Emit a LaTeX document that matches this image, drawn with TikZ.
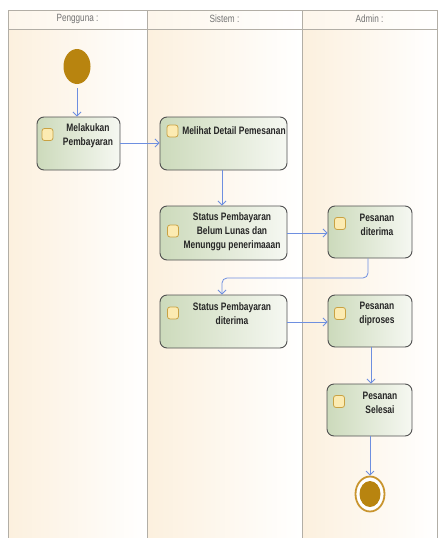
\documentclass[tikz,border=0pt]{standalone}
\usepackage{fontspec}
\setmainfont{Liberation Sans}
\newfontfamily\nodefont[FakeStretch=0.78]{Liberation Sans}
\usetikzlibrary{arrows.meta,calc,shapes.geometric}
\definecolor{lanel}{HTML}{FCF0DE}
\definecolor{laner}{HTML}{FFFFFF}
\definecolor{framec}{HTML}{B2AEA6}
\definecolor{actl}{HTML}{CCDABB}
\definecolor{actr}{HTML}{F6F8F2}
\definecolor{actb}{HTML}{505050}
\definecolor{iconf}{HTML}{FCEBB2}
\definecolor{icond}{HTML}{C9A243}
\definecolor{flow}{HTML}{6E8FE0}
\definecolor{gold}{HTML}{B8840F}
\definecolor{goldr}{HTML}{C9952F}
\tikzset{
  x=1pt, y=-1pt,
  act/.style={draw=actb, line width=0.9pt, rounded corners=7pt, left color=actl, right color=actr, inner sep=0pt},
  icon/.style={draw=icond, line width=0.8pt, fill=iconf, rounded corners=2.5pt, minimum width=11pt, minimum height=12pt, inner sep=0pt},
  lbl/.style={font=\nodefont\bfseries\fontsize{10.8}{14}\selectfont, align=center, text=black!85, inner sep=0pt},
  hdr/.style={font=\nodefont\fontsize{10.5}{12}\selectfont, text=black!55, inner sep=0pt},
  flowline/.style={draw=flow, line width=0.8pt, -{Straight Barb[length=4pt,width=8pt]}},
}
\begin{document}
\begin{tikzpicture}
\useasboundingbox (0,0) rectangle (438,538);
\fill[white] (0,0) rectangle (438,538);
% lanes
\shade[left color=lanel, right color=laner] (8,10) rectangle (147,538);
\shade[left color=lanel, right color=laner] (147,10) rectangle (302,538);
\shade[left color=lanel, right color=laner] (302,10) rectangle (437,538);
\shade[left color=lanel!60, right color=white] (8,10) rectangle (147,29);
\shade[left color=lanel!60, right color=white] (147,10) rectangle (302,29);
\shade[left color=lanel!60, right color=white] (302,10) rectangle (437,29);
\draw[framec, line width=0.9pt] (8,538) -- (8,10) -- (437,10) -- (437,538);
\draw[framec, line width=0.9pt] (8,29) -- (437,29);
\draw[framec, line width=0.9pt] (147,10) -- (147,538);
\draw[framec, line width=0.9pt] (302,10) -- (302,538);
\node[hdr] (h1) at (77.5,19) {Pengguna :};
\node[hdr] (h2) at (224.5,19) {Sistem :};
\node[hdr] (h3) at (369.5,19) {Admin :};
% start
\node[ellipse, fill=gold, minimum width=27pt, minimum height=35pt, inner sep=0pt] (start) at (77,66.5) {};
\coordinate (s0) at (77,88);
% activities
\node[act, minimum width=83pt, minimum height=53pt] (a1) at (78.5,143.5) {};
\node[act, minimum width=127pt, minimum height=53pt] (a2) at (223.5,143.5) {};
\node[act, minimum width=127pt, minimum height=54pt] (a3) at (223.5,233) {};
\node[act, minimum width=84pt, minimum height=52pt] (a4) at (370,232) {};
\node[act, minimum width=127pt, minimum height=53pt] (a5) at (223.5,321.5) {};
\node[act, minimum width=84pt, minimum height=52pt] (a6) at (370,321) {};
\node[act, minimum width=85pt, minimum height=52pt] (a7) at (369.5,410) {};
% icons
\node[icon] (i1) at (47.5,134.5) {};
\node[icon] (i2) at (172.5,131) {};
\node[icon] (i3) at (173,231) {};
\node[icon] (i4) at (340,223.5) {};
\node[icon] (i5) at (173,313) {};
\node[icon] (i6) at (340,313.5) {};
\node[icon] (i7) at (339,401.5) {};
% labels
\node[lbl] (t1) at (88,136) {Melakukan\\Pembayaran};
\node[lbl] (t2) at (234,131) {Melihat Detail Pemesanan};
\node[lbl] (t3) at (232,232) {Status Pembayaran\\Belum Lunas dan\\Menunggu penerimaaan};
\node[lbl] (t4) at (377,225) {Pesanan\\diterima};
\node[lbl] (t5) at (232,314) {Status Pembayaran\\diterima};
\node[lbl] (t6) at (377,314) {Pesanan\\diproses};
\node[lbl] (t7) at (380,402.5) {Pesanan\\Selesai};
% end
\node[ellipse, draw=goldr, line width=1.8pt, fill=white, minimum width=29pt, minimum height=35pt, inner sep=0pt] (end) at (370,494) {};
\node[ellipse, fill=gold, minimum width=21pt, minimum height=26pt, inner sep=0pt] (endin) at (end.center) {};
% flows
\draw[flowline] (s0) -- (s0 |- a1.north);
\draw[flowline] (a1.east |- 0,143) -- (a2.west |- 0,143);
\draw[flowline] (a2.south -| 222,0) -- (a3.north -| 222,0);
\draw[flowline] (a3.east |- 0,233) -- (a4.west |- 0,233);
\draw[flowline, rounded corners=5pt] (a4.south -| 368,0) -- (368,278) -- (222,278) -- (a5.north -| 222,0);
\draw[flowline] (a5.east |- 0,322) -- (a6.west |- 0,322);
\draw[flowline] (a6.south -| 371,0) -- (a7.north -| 371,0);
\draw[flowline] (a7.south -| 370,0) -- (end.north);
\end{tikzpicture}
\end{document}
